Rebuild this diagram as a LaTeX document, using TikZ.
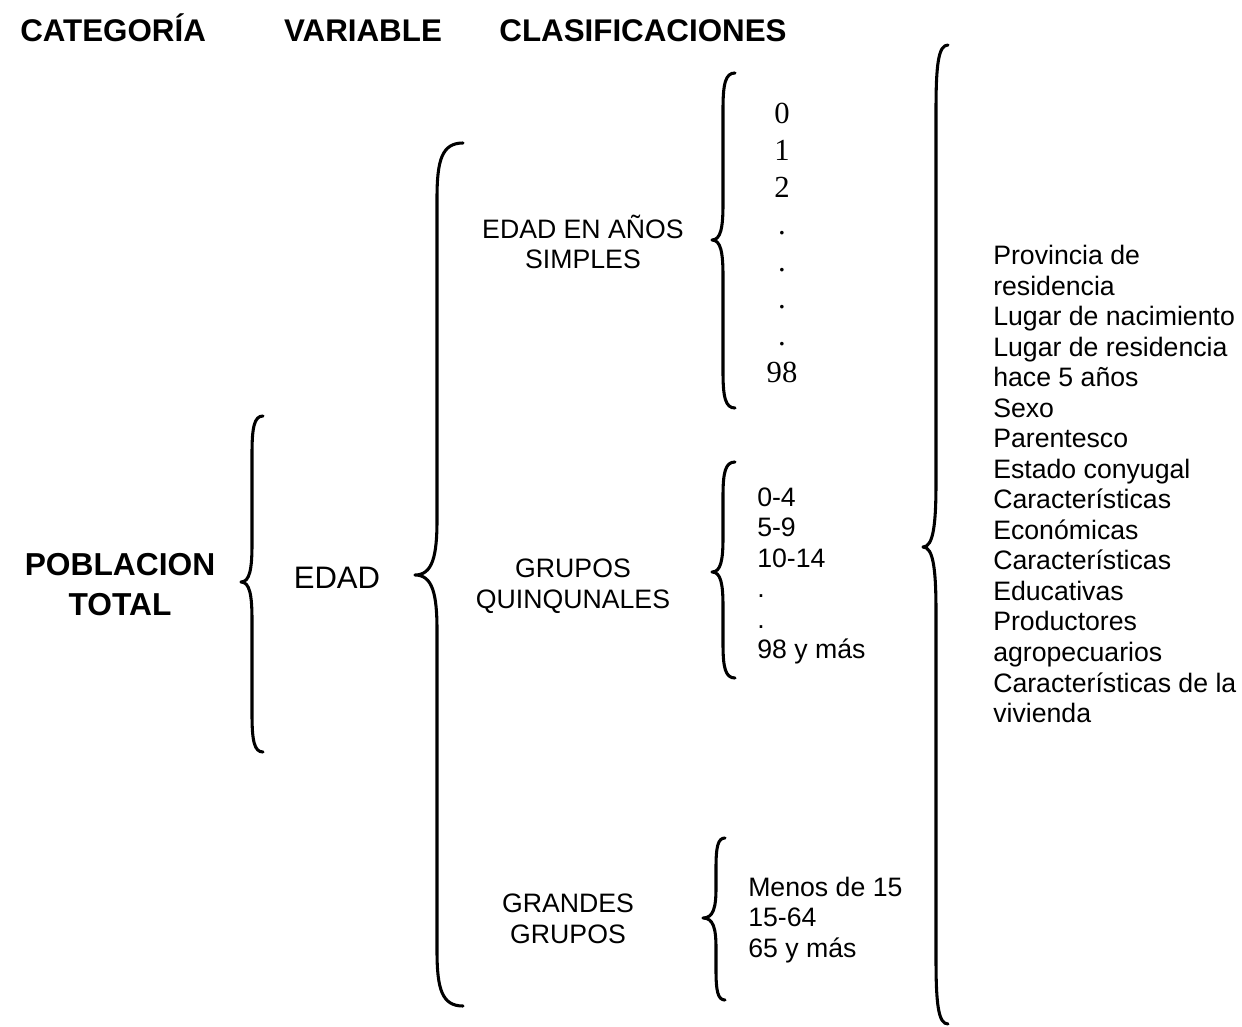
\documentclass[tikz,border=0pt]{standalone}
\usepackage{fontspec}
\setmainfont{Liberation Sans}
\newfontfamily\serifnum{Liberation Serif}
\begin{document}
\begin{tikzpicture}[x=0.75pt,y=-0.75pt,
  brc/.style={line width=2.3pt,line cap=round,line join=round},
  hdr/.style={font=\fontsize{23.5}{28}\selectfont\bfseries,inner sep=0pt},
  lbl/.style={font=\fontsize{20}{22.9}\selectfont,align=center,inner sep=0pt},
  lst/.style={font=\fontsize{20}{22.9}\selectfont,align=left,inner sep=0pt,anchor=west},
]
\useasboundingbox (0,0) rectangle (1242,1027);
% brace macro: xe, ytop, xline, xtip, ymid, ybot, r
\newcommand\mybrace[7]{%
  \draw[brc] (#1,#2) .. controls (#3+0.2*#1-0.2*#3,#2) and (#3,#2+0.3*#7) .. (#3,#2+#7) -- (#3,#5-#7)
     .. controls (#3,#5-0.35*#7) and (#3-0.2*#3+0.2*#4,#5) .. (#4,#5)
     .. controls (#3-0.2*#3+0.2*#4,#5) and (#3,#5+0.35*#7) .. (#3,#5+#7)
     -- (#3,#6-#7) .. controls (#3,#6-0.3*#7) and (#3+0.2*#1-0.2*#3,#6) .. (#1,#6);}
% headers
\node[hdr,anchor=base west] (hcat) at (20,42) {CATEGORÍA};
\node[hdr,anchor=base] (hvar) at (363,42) {VARIABLE};
\node[hdr,anchor=base] (hcla) at (643,42) {CLASIFICACIONES};
% left labels
\node[hdr,align=center,font=\fontsize{23.8}{30}\selectfont\bfseries] (pob) at (120,585) {POBLACION\\TOTAL};
\node[lbl,font=\fontsize{23.3}{28}\selectfont] (edad) at (337,578) {EDAD};
\node[lbl] (simples) at (583,242) {EDAD EN AÑOS\\SIMPLES};
\node[lbl] (quinq) at (573,586) {GRUPOS\\QUINQUNALES};
\node[lbl] (grandes) at (568,919) {GRANDES\\GRUPOS};
% lists
\node[inner sep=0pt,align=center,font=\fontsize{23}{27.75}\selectfont\serifnum] (nums) at (782,243) {0\\1\\2\\.\\.\\.\\.\\98};
\node[lst] (qlist) at (757,576) {0-4\\5-9\\10-14\\.\\.\\98 y más};
\node[lst] (glist) at (748,920) {Menos de 15\\15-64\\65 y más};
\node[lst] (rlist) at (993,484) {Provincia de\\residencia\\Lugar de nacimiento\\Lugar de residencia\\hace 5 años\\Sexo\\Parentesco\\Estado conyugal\\Características\\Económicas\\Características\\Educativas\\Productores\\agropecuarios\\Características de la\\vivienda};
% braces
\mybrace{263}{416}{252}{241}{582}{752}{38}
\mybrace{463}{143}{437}{415}{575}{1006}{55}
\mybrace{735}{73}{723}{712}{240}{408}{36}
\mybrace{735}{462}{723}{712}{572}{678}{34}
\mybrace{725}{838}{716}{703}{918}{1000}{30}
\mybrace{948}{45}{936}{923}{547}{1024}{65}
\end{tikzpicture}
\end{document}
